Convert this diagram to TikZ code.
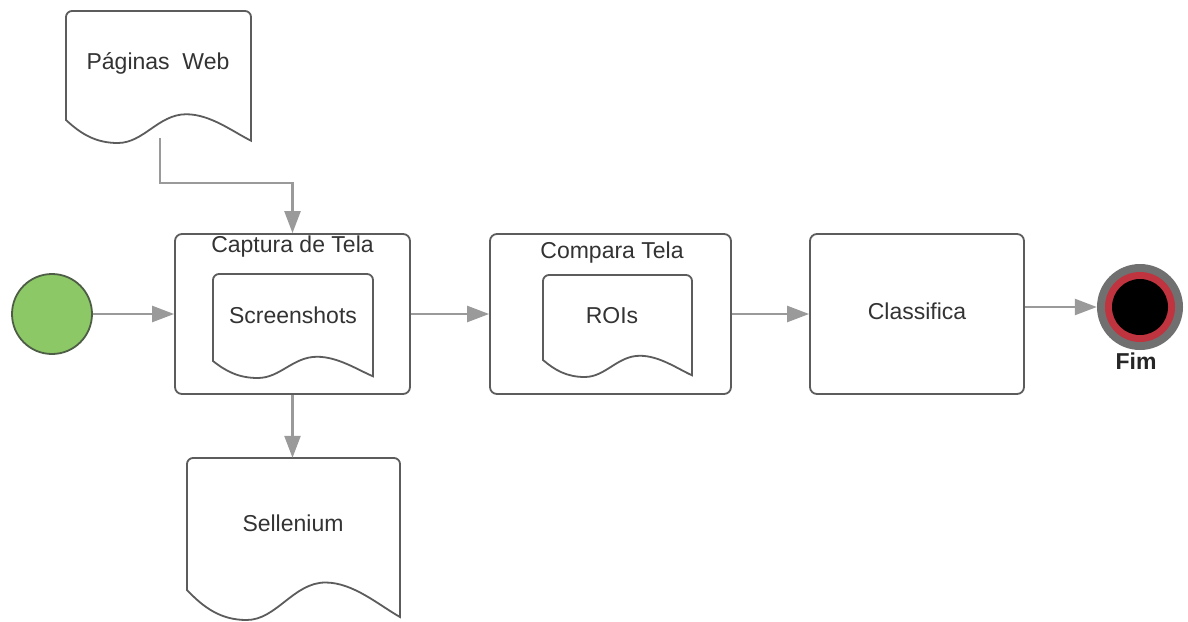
\documentclass[tikz,border=0pt]{standalone}
\usepackage{fontspec}
\setmainfont{Liberation Sans}
\usetikzlibrary{arrows.meta}
\definecolor{boxline}{HTML}{5C5C5C}
\definecolor{arrowgray}{HTML}{9A9A9A}
\definecolor{txt}{HTML}{333333}
\definecolor{startgreen}{HTML}{8DC866}
\definecolor{startline}{HTML}{4E5E46}
\definecolor{fimgray}{HTML}{707070}
\definecolor{fimred}{HTML}{C0343F}
\newcommand\docshape[5]{%
  \draw[docline] (#1,#4) [rounded corners=6] -- (#1,#2) -- (#3,#2) [sharp corners] -- (#3,{#4+0.9*#5})
    .. controls ({#1+0.9*(#3-#1)},{#4+0.5*#5}) and ({#1+0.78*(#3-#1)},{#4-0.25*#5}) .. ({#1+0.65*(#3-#1)},{#4-0.25*#5})
    .. controls ({#1+0.5*(#3-#1)},{#4-0.25*#5}) and ({#1+0.42*(#3-#1)},{#4+#5}) .. ({#1+0.28*(#3-#1)},{#4+#5})
    .. controls ({#1+0.16*(#3-#1)},{#4+#5}) and ({#1+0.08*(#3-#1)},{#4+0.6*#5}) .. (#1,#4) -- cycle;}
\begin{document}
\begin{tikzpicture}[x=1pt,y=-1pt,
  docline/.style={draw=boxline,line width=1.8pt,fill=white},
  procbox/.style={draw=boxline,line width=1.8pt,rounded corners=7pt,minimum height=160pt,fill=white},
  lbl/.style={text=txt,font=\fontsize{23}{26}\selectfont,inner sep=0pt},
  flow/.style={draw=arrowgray,line width=2.4pt,-{Triangle[length=22pt,width=16pt]}},
  hidden/.style={draw=none,inner sep=0pt}]
\useasboundingbox (0,0) rectangle (1188,621);
\fill[white] (0,0) rectangle (1188,621);

% processes
\node[procbox,minimum width=235pt] (captura) at (292.5,314) {};
\node[procbox,minimum width=241pt] (compara) at (610.5,314) {};
\node[procbox,minimum width=214pt] (classifica) at (917,314) {};
\node[lbl] (capturat) at (292.5,247) {Captura de Tela};
\node[lbl] (comparat) at (612,253) {Compara Tela};
\node[lbl] (classificat) at (917,311) {Classifica};

% documents
\docshape{66}{11}{251}{120}{23}
\node[hidden,minimum width=185pt,minimum height=126pt] (web) at (158.5,74) {};
\node[lbl] (webt) at (158,63) {Páginas\ \ Web};
\coordinate (webout) at (160,138);

\docshape{213}{274}{373}{361}{17}
\node[lbl] (shots) at (293,315) {Screenshots};

\docshape{543}{275}{692}{360}{17}
\node[lbl] (rois) at (612,316) {ROIs};

\docshape{187}{458}{400}{590}{30}
\node[hidden,minimum width=213pt,minimum height=150pt] (sel) at (293.5,533) {};
\node[lbl] (selt) at (293,523) {Sellenium};

% start and end
\node[circle,draw=startline,fill=startgreen,line width=1.8pt,minimum size=80pt,inner sep=0pt] (start) at (52,314) {};
\node[circle,fill=fimgray,minimum size=86pt,inner sep=0pt] (fim) at (1140,307) {};
\node[circle,fill=fimred,minimum size=70pt,inner sep=0pt] (fimr) at (fim) {};
\node[circle,fill=black,minimum size=56pt,inner sep=0pt] (fimb) at (fim) {};
\node[lbl,font=\bfseries\fontsize{23}{26}\selectfont,text=black!85] (fimt) at (1136,361) {Fim};

% connectors
\draw[flow] (webout) -- ++(0,45) -| (captura.north);
\draw[flow] (start) -- (captura.west);
\draw[flow] (captura.east) -- (compara.west);
\draw[flow] (compara.east) -- (classifica.west);
\draw[flow] (fim.west -| classifica.east) -- (fim.west);
\draw[flow] (captura.south) -- (captura.south |- sel.north);
\end{tikzpicture}
\end{document}
